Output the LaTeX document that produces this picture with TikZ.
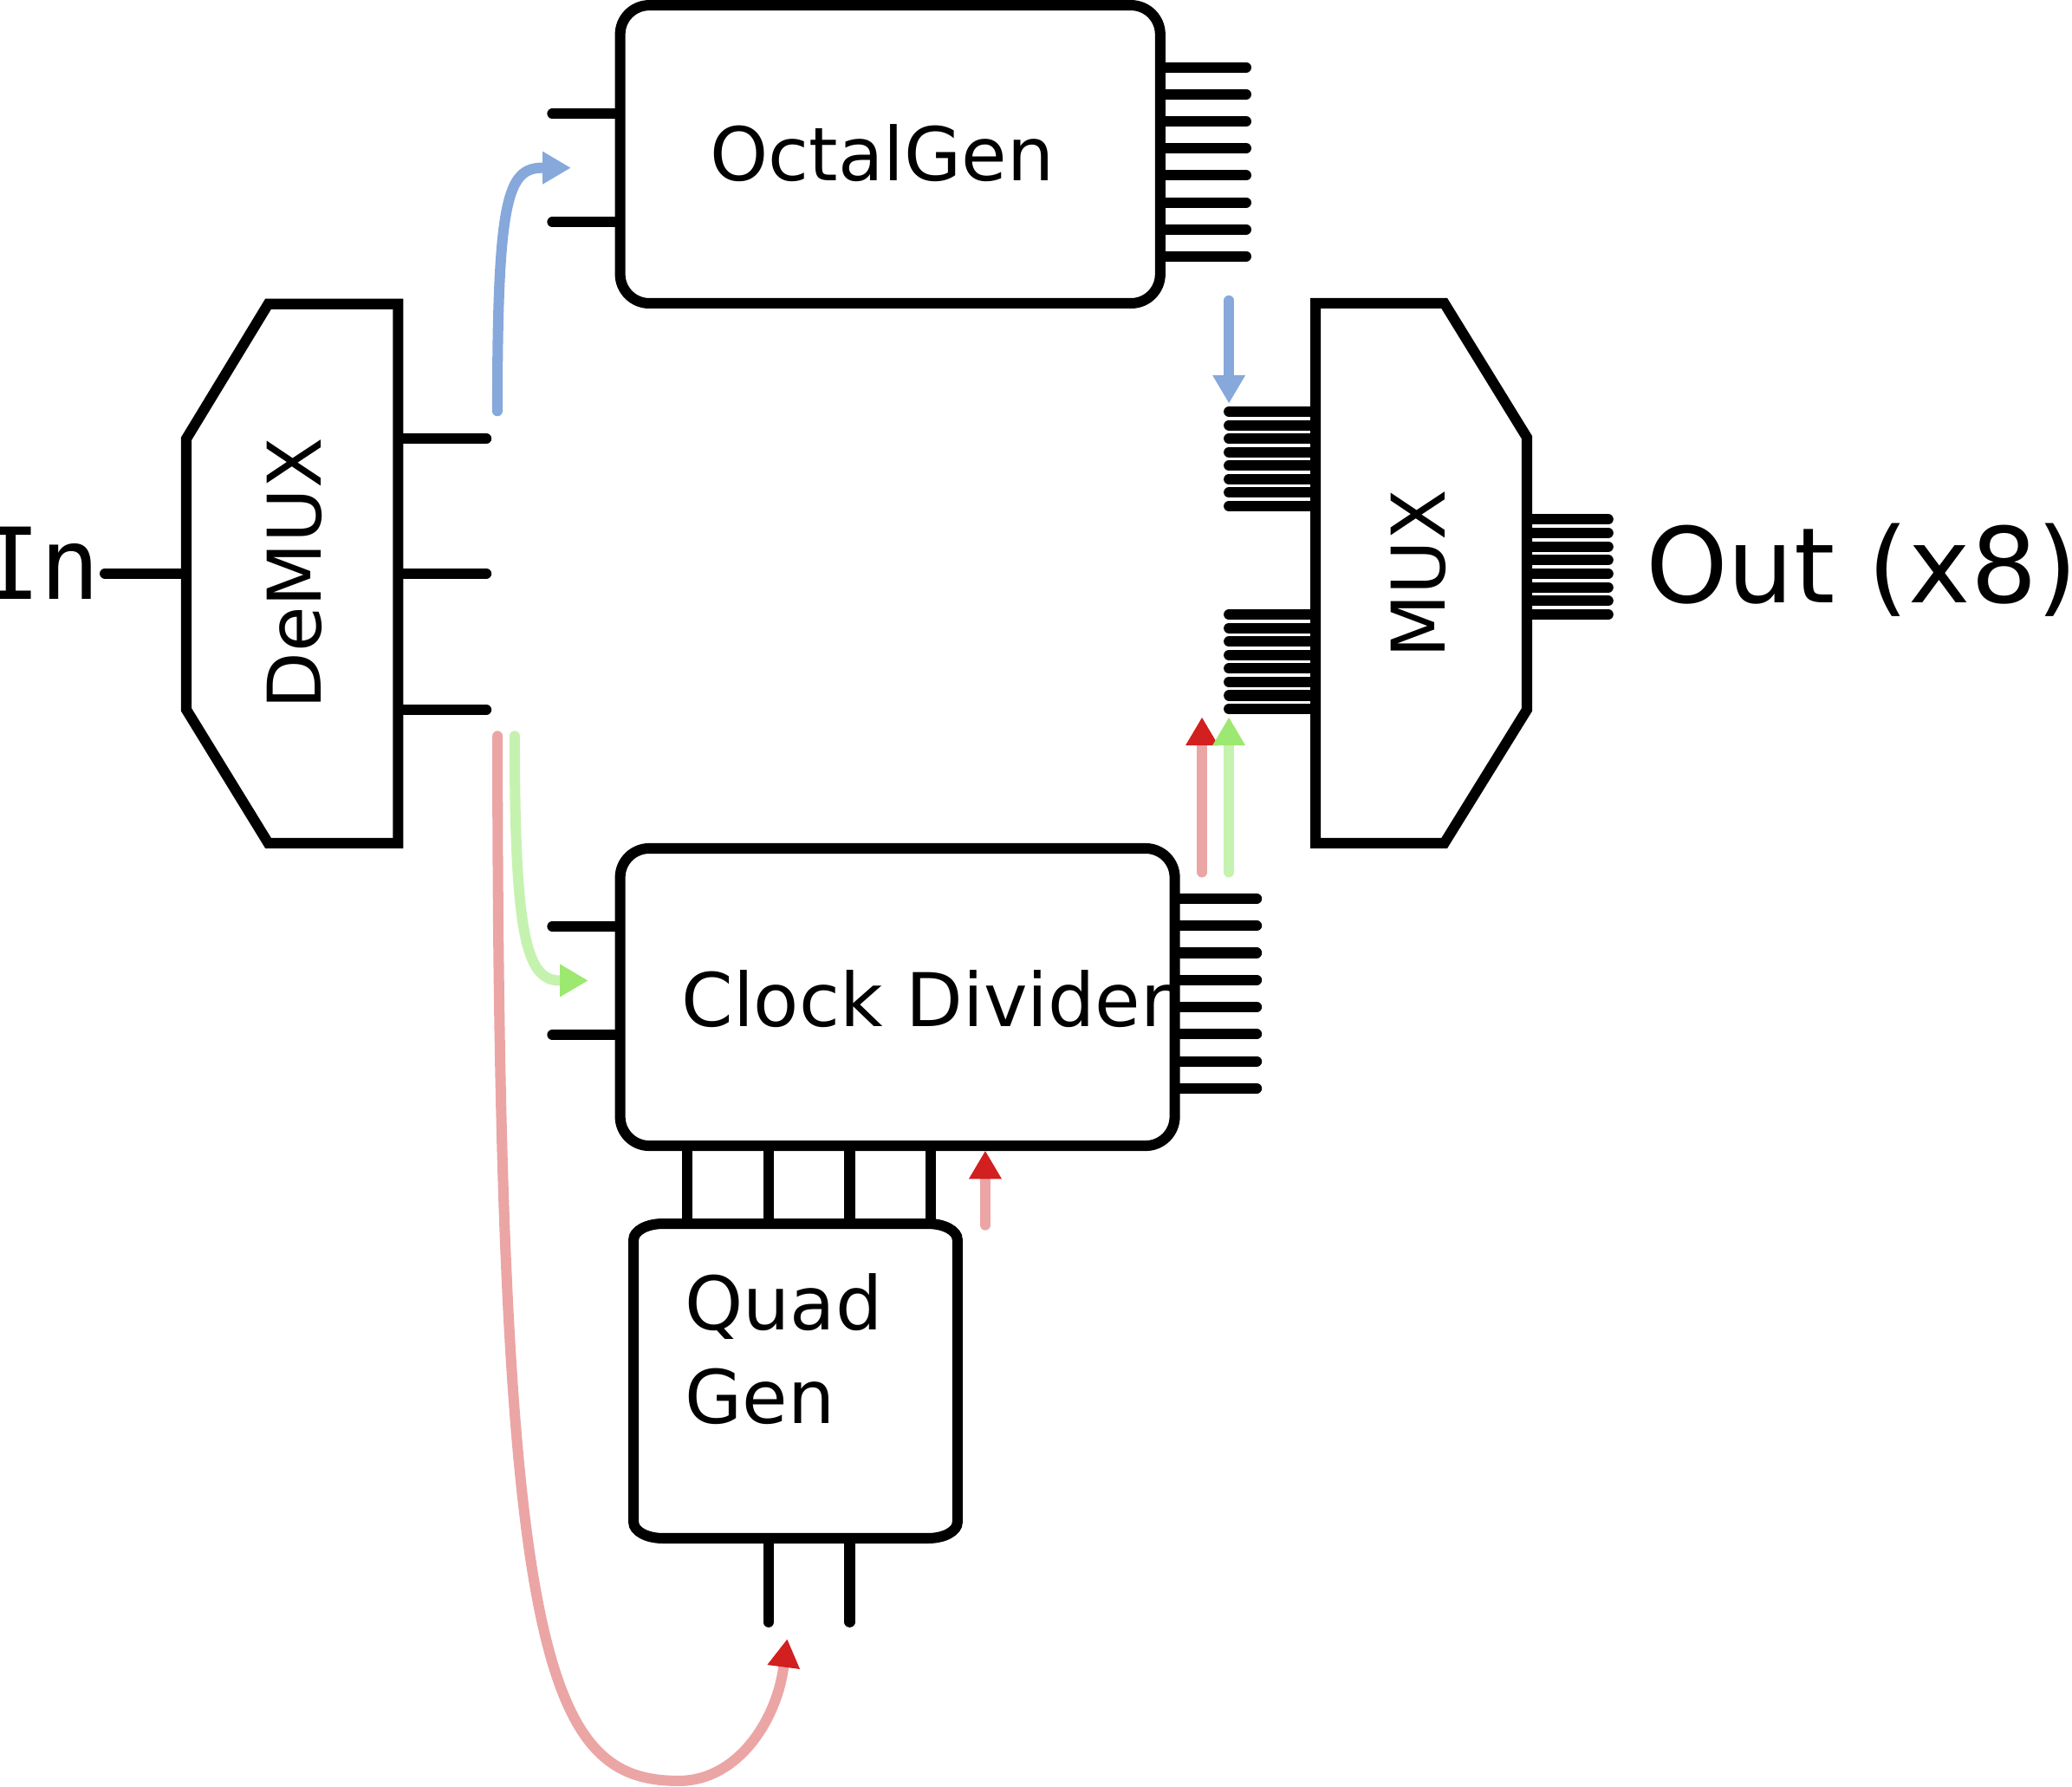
\documentclass[tikz,border=0pt]{standalone}
\usepackage{fontspec}
\setmainfont{DejaVu Sans}
\newfontfamily\inmono{DejaVu Sans Mono}
\usetikzlibrary{arrows.meta}
\definecolor{cblue}{HTML}{86A8DB}
\definecolor{cpink}{HTML}{EBA5A5}
\definecolor{cred}{HTML}{D21F1F}
\definecolor{cgreenl}{HTML}{C6F2B0}
\definecolor{cgreen}{HTML}{9DE870}
\begin{document}
\begin{tikzpicture}[x=0.02cm,y=-0.02cm,
  outline/.style={line width=4.5pt, line join=miter, draw=black},
  stub/.style={line width=4.5pt, line cap=round},
  box/.style={draw, line width=4.5pt, rounded corners=0.44cm, inner sep=0pt, outer sep=0pt},
  lbl/.style={inner sep=0pt, font=\fontsize{31.9}{38}\selectfont},
  bigl/.style={inner sep=0pt, font=\fontsize{45}{54}\selectfont},
  flow/.style={line width=4.5pt, line cap=round},
  tipblue/.style={-{Triangle[length=12pt,width=14.2pt,line width=0pt,color=cblue]}},
  tipred/.style={-{Triangle[length=12pt,width=14.2pt,line width=0pt,color=cred]}},
  tipgreen/.style={-{Triangle[length=12pt,width=14.2pt,line width=0pt,color=cgreen]}}]
\useasboundingbox (0,0) rectangle (1568,1352);

% ---------- OctalGen ----------
\foreach \y in {86,168} \draw[stub] (418,\y) -- (469.3,\y);
\foreach \i in {0,...,7} \draw[stub] (878,51+\i*20.43) -- (943,51+\i*20.43);
\node[box, fill=white, minimum width=408.7*0.02cm, minimum height=225.5*0.02cm] (oct) at (673.65,116.75) {};
\node[lbl, anchor=base] (octl) at (667.5,137) {OctalGen};

% ---------- Clock Divider ----------
\foreach \y in {701,783} \draw[stub] (418,\y) -- (469.3,\y);
\foreach \i in {0,...,7} \draw[stub] (889,680+\i*20.51) -- (951,680+\i*20.51);
\foreach \x in {520,581.5,643,704.5} \draw[line width=4.5pt] (\x,867) -- (\x,926);
\node[box, fill=white, minimum width=419.7*0.02cm, minimum height=225*0.02cm] (clk) at (679.15,754.5) {};
\node[lbl, anchor=base] (clkl) at (701,777) {Clock Divider};

% ---------- Quad Gen ----------
\foreach \x in {581.5,643} \draw[stub] (\x,1164) -- (\x,1227.5);
\draw[outline, fill=white] (501.5,926) -- (702.5,926)
  .. controls (714.6,926) and (724.5,931.4) .. (724.5,938)
  -- (724.5,1152)
  .. controls (724.5,1158.6) and (714.6,1164) .. (702.5,1164)
  -- (501.5,1164)
  .. controls (489.4,1164) and (479.5,1158.6) .. (479.5,1152)
  -- (479.5,938)
  .. controls (479.5,931.4) and (489.4,926) .. (501.5,926) -- cycle;
\node[lbl, anchor=base west] (quadl) at (518,1006.6) {Quad};
\node[lbl, anchor=base west] (genl) at (518,1077) {Gen};

% ---------- DeMUX ----------
\draw[stub] (79.4,434) -- (141,434);
\foreach \y in {332,434,537} \draw[stub] (301.2,\y) -- (368,\y);
\draw[outline, fill=white] (203,230) -- (301.2,230) -- (301.2,638) -- (203,638) -- (141,537) -- (141,332) -- cycle;
\node[lbl, rotate=90, anchor=base] (demuxl) at (242.7,434) {DeMUX};
\node[inner sep=0pt, anchor=base east, font=\inmono\fontsize{42.7}{50}\selectfont] (inl) at (76.3,453.6) {In};

% ---------- MUX ----------
\foreach \i in {0,...,7} {
  \draw[stub] (930,311.5+\i*10.21) -- (995.5,311.5+\i*10.21);
  \draw[stub] (930,465+\i*10.21) -- (995.5,465+\i*10.21);
  \draw[stub] (1155.5,393+\i*10.29) -- (1217,393+\i*10.29);
}
\draw[outline, fill=white] (995.5,229.5) -- (1093,229.5) -- (1155.5,331) -- (1155.5,537) -- (1093,638) -- (995.5,638) -- cycle;
\node[lbl, rotate=90, anchor=base] (muxl) at (1093.3,434.5) {MUX};
\node[bigl, anchor=base west] (outl) at (1245,455.8) {Out (x8)};

% ---------- flow arrows ----------
\coordinate (bs) at (376.4,311);   \coordinate (be) at (431.7,127);
\coordinate (gs) at (389.5,557);   \coordinate (ge) at (444.8,742);
\coordinate (rs) at (376.5,557);   \coordinate (rb) at (513.6,1347.6); \coordinate (re) at (595.7,1240.5);
\coordinate (bms) at (930,227.5);  \coordinate (bme) at (930,305);
\coordinate (rms) at (909.6,660);  \coordinate (rme) at (909.6,543);
\coordinate (gms) at (930,660);    \coordinate (gme) at (930,543);
\coordinate (rqs) at (745.6,927);  \coordinate (rqe) at (745.6,871);

\draw[flow, cblue, tipblue] (bs) .. controls (376.4,150) and (384,127) .. (be);
\draw[flow, cblue, tipblue] (bms) -- (bme);
\draw[flow, cgreenl, tipgreen] (gs) .. controls (389.5,707) and (398,742) .. (ge);
\draw[flow, cpink] (rs) .. controls (376.5,1257) and (413.6,1347.6) .. (rb);
\draw[flow, cpink, tipred] (rb) .. controls (558.6,1347.6) and (587.8,1301) .. (re);
\draw[flow, cpink, tipred] (rms) -- (rme);
\draw[flow, cgreenl, tipgreen] (gms) -- (gme);
\draw[flow, cpink, tipred] (rqs) -- (rqe);
\end{tikzpicture}
\end{document}
